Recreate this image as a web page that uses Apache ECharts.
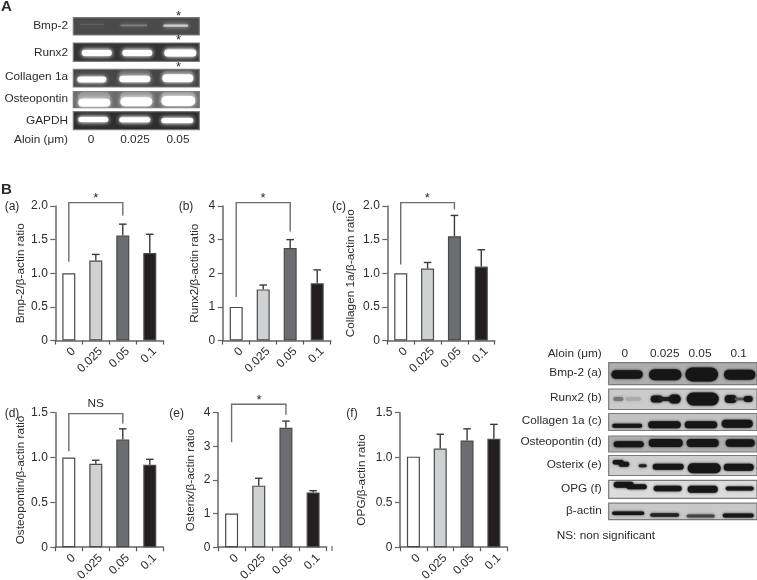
<!DOCTYPE html>
<html><head><meta charset="utf-8">
<style>html,body{margin:0;padding:0;background:#fff}#c{width:757px;height:580px}</style>
<script src="https://cdn.jsdelivr.net/npm/echarts@6/dist/echarts.min.js"></script>
</head><body><div id="c"></div>
<script>
const doses = ['0','0.025','0.05','0.1'];
const barColors = ['#ffffff','#cfd1d3','#6b6d70','#231f20'];

const bmp2 = [1, 1.19, 1.56, 1.30];
const bmp2Top = [null, 1.28, 1.73, 1.58];
const runx2 = [1, 1.52, 2.75, 1.70];
const runx2Top = [null, 1.65, 3.0, 2.1];
const collagen = [1, 1.07, 1.55, 1.10];
const collagenTop = [null, 1.16, 1.86, 1.35];
const osteopontin = [1, 0.93, 1.20, 0.92];
const osteopontinTop = [null, 0.97, 1.32, 0.98];
const osterix = [1, 1.83, 3.55, 1.63];
const osterixTop = [null, 2.05, 3.75, 1.68];
const opg = [1.01, 1.10, 1.19, 1.21];
const opgTop = [null, 1.26, 1.32, 1.37];

// [left foot, top, right foot] of each significance bracket, in axis units
const bracketA = [1.17, 2.05, 1.86];
const bracketB = [1.29, 4.10, 3.24];
const bracketC = [1.13, 2.05, 1.95];
const bracketD = [1.07, 1.49, 1.38];
const bracketE = [3.12, 4.25, 3.94];

const charts = [
  {name:'Bmp-2/β-actin ratio', v:bmp2, t:bmp2Top, max:2, step:.5, b:bracketA, l:55.3, w:108, top:206, gap:27},
  {name:'Runx2/β-actin ratio', v:runx2, t:runx2Top, max:4, step:1, b:bracketB, l:222.7, w:108, top:206, gap:21.5},
  {name:'Collagen 1a/β-actin ratio', v:collagen, t:collagenTop, max:2, step:.5, b:bracketC, l:387.3, w:107.4, top:206, gap:31},
  {name:'Osteopontin/β-actin ratio', v:osteopontin, t:osteopontinTop, max:1.5, step:.5, b:bracketD, l:55.3, w:108, top:412.7, gap:27},
  {name:'Osterix/β-actin ratio', v:osterix, t:osterixTop, max:4, step:1, b:bracketE, l:218, w:108.7, top:412.7, gap:21},
  {name:'OPG/β-actin ratio', v:opg, t:opgTop, max:1.5, step:.5, b:null, l:400, w:107.3, top:412.7, gap:32}
];
const PLOT_H = 134.5;

// gel panels: band = [x from panel left, y from panel top, width, height, colour]
const W = '#ffffff', K = '#161616', H1 = '#6c6c6c', H2 = '#9a9a9a';
const gels = [
 {t:17.7,h:17.3,l:73.3,w:126,bg:'#4a4a4a',glow:1,bands:[[7,6.7,24,1.2,'#606060'],[47,7.7,27,1.6,'#808080'],[90,8,25,2.2,'#d0d0d0']]},
 {t:43,h:18.3,l:73.3,w:126,bg:'#343434',glow:1,bands:[[8.5,9.5,30,8,H1],[49,9.5,30,8,H1],[91,9.5,32,9,H1],[8.5,10,30,6,W],[49,10,30,6,W],[91,10,32,7,W]]},
 {t:69.3,h:17.7,l:73.3,w:126,bg:'#464646',glow:1,bands:[[46,5,31,8,H1],[89,5.5,31,8,H1],[4,10.3,29,6,W],[46,9.7,31,6.5,W],[89,9,31,8,W]]},
 {t:91.7,h:16,l:73.3,w:126,bg:'#6a6a6a',glow:1,bands:[[5,5.5,32,10,H2],[47,5,32,10,H2],[88,5,34,10,H2],[5,11,32,8,W],[47,10,32,9,W],[88,9.3,34,10,W]]},
 {t:111.7,h:18,l:73.3,w:126,bg:'#2e2e2e',glow:1,bands:[[5,7.7,30,7,H1],[46,8,31,7,H1],[88,8.7,32,7,H1],[5,7.7,30,5,W],[46,8,31,5,W],[88,8.7,32,5,W]]},

 {t:362.7,h:22,l:608.7,w:148.3,bg:'#adadad',bands:[[2.7,11.7,31.3,8.5,K],[40.3,12,32.4,11,K],[76.7,11.7,32.6,14,K],[115.3,12,31.4,10,K]]},
 {t:389,h:20.5,l:608.7,w:148.3,bg:'#cbcbcb',bands:[[4.7,10,10,4,'#777777'],[17,10,15,3.5,'#aaaaaa'],[42,10,12,7,K],[50,10,20,4,'#222222'],[60,10,12,9,K],[78,10,32,13,K],[116,10,12,8,K],[126,10,10,2.5,'#555555'],[135,10,9,6,K]]},
 {t:413.5,h:17,l:608.7,w:148.3,bg:'#c2c2c2',bands:[[3.5,12.3,30,4,K],[39.5,11.3,32.5,7,K],[76,11.3,32.5,7,K],[113,10.3,31,8,K]]},
 {t:436,h:16,l:608.7,w:148.3,bg:'#b0b0b0',bands:[[5,8.3,30,6,K],[40,7,34,8,K],[78,7,32,8,K],[117,7,29,7.5,K]]},
 {t:455.5,h:20,l:608.7,w:148.3,bg:'#cfcfcf',bands:[[4,6.8,11,4.5,K],[10,8.8,10.5,5,K],[30,10.3,8,3,'#222222'],[44,11.3,31,6,K],[79,12.7,33,10,K],[115,11.7,30,7,K]]},
 {t:480.3,h:18,l:608.7,w:148.3,bg:'#dcdcdc',bands:[[5,4.5,20,6,K],[18,6.5,20,5,K],[45,8.3,28,5.5,K],[79,9,30,7,K],[117,8.3,28,4,K]]},
 {t:503.2,h:16.5,l:608.7,w:148.3,bg:'#c8c8c8',bands:[[3.5,10,32,3.5,K],[41.5,11.7,29,3.5,'#222222'],[78,12.7,28,3,'#444444'],[114,12.3,31,4,K]]}
];

const font = 'Liberation Sans, Arial, sans-serif';
const txtColor = '#2b2b2b';
const texts = [
 ['A',1,7,'left',15,'bold'],['B',1,190,'left',15,'bold'],
 ['Bmp-2',68,26,'right'],['Runx2',68,53,'right'],['Collagen 1a',68,77,'right'],['Osteopontin',68,99,'right'],['GAPDH',68,121,'right'],
 ['Aloin (μm)',68,140,'right'],['0',91,140],['0.025',135,140],['0.05',178,140],
 ['*',178.5,16,'center',13],['*',178.5,40,'center',13],['*',178.5,67,'center',13],
 ['(a)',12,207,'center',12],['(b)',186,207,'center',12],['(c)',339,207,'center',12],['(d)',12,414,'center',12],['(e)',176.7,414,'center',12],['(f)',352,414,'center',12],
 ['*',95.7,198,'center',13],['*',263,198,'center',13],['*',427.3,198,'center',13],['*',259,400.5,'center',13],['NS',95.7,404],
 ['Aloin (μm)',601.7,354,'right'],['0',624.7,354],['0.025',664.7,354],['0.05',700,354],['0.1',738.7,354],
 ['Bmp-2 (a)',601.7,373,'right'],['Runx2 (b)',601.7,398,'right'],['Collagen 1a (c)',601.7,421,'right'],['Osteopontin (d)',601.7,442,'right'],
 ['Osterix (e)',601.7,465,'right'],['OPG (f)',601.7,489,'right'],['β-actin',601.7,511,'right'],
 ['NS: non significant',556.7,535.7,'left']
];

const grids=[],xAxes=[],yAxes=[],series=[];
charts.forEach((c,i)=>{
  grids.push({left:c.l,top:c.top,width:c.w,height:PLOT_H,outerBoundsMode:'none'});
  const axisLine={lineStyle:{color:'#666',width:1.5}};
  xAxes.push({gridIndex:i,type:'category',data:doses,axisLine,
    axisTick:{show:true,length:4,alignWithLabel:false,lineStyle:{color:'#555',width:1.2}},
    axisLabel:{rotate:45,interval:0,margin:4,fontSize:12,lineHeight:14,verticalAlign:'top',hideOverlap:false,color:txtColor,fontFamily:font},splitLine:{show:false}});
  yAxes.push({gridIndex:i,type:'value',min:0,max:c.max,interval:c.step,name:c.name,nameLocation:'middle',nameGap:c.gap,
    nameTextStyle:{fontSize:11.8,color:txtColor,fontFamily:font},
    axisLine:{show:true,lineStyle:{color:'#666',width:1.5}},
    axisTick:{show:true,length:5,lineStyle:{color:'#666',width:1.2}},
    axisLabel:{margin:7.5,fontSize:12,color:txtColor,fontFamily:font,
      formatter:v=>v===0?'0':(c.step<1?v.toFixed(1):String(v))},splitLine:{show:false}});
  series.push({type:'bar',xAxisIndex:i,yAxisIndex:i,barWidth:13,silent:true,
    data:c.v.map((v,k)=>({value:v,itemStyle:{color:barColors[k],borderColor:'#4a4a4a',borderWidth:1.2}}))});
  series.push({type:'custom',xAxisIndex:i,yAxisIndex:i,silent:true,clip:false,
    data:c.v.map((v,k)=>[k,v,c.t[k]]).filter(d=>d[2]!=null),encode:{x:0,y:[1,2]},
    renderItem:(p,api)=>{
      const a=api.coord([api.value(0),api.value(1)]),b=api.coord([api.value(0),api.value(2)]);
      const st={stroke:'#3a3a3a',lineWidth:1.4,fill:null};
      return {type:'group',children:[
        {type:'line',shape:{x1:a[0],y1:a[1],x2:b[0],y2:b[1]},style:st},
        {type:'line',shape:{x1:b[0]-3.8,y1:b[1],x2:b[0]+3.8,y2:b[1]},style:st}]};
    }});
  if(c.b){
    series.push({type:'custom',xAxisIndex:i,yAxisIndex:i,silent:true,clip:false,
      data:[[0,2,c.b[0],c.b[1],c.b[2]]],encode:{x:[0,1],y:[2,3,4]},
      renderItem:(p,api)=>{
        const pts=[[api.value(0),api.value(2)],[api.value(0),api.value(3)],[api.value(1),api.value(3)],[api.value(1),api.value(4)]].map(q=>api.coord(q));
        return {type:'polyline',shape:{points:pts},style:{stroke:'#6e6e6e',lineWidth:1.4,fill:null}};
      }});
  }
});
gels.forEach((g,n)=>{
  const i=grids.length;
  grids.push({left:g.l,top:g.t,width:g.w,height:g.h,outerBoundsMode:'none',show:true,backgroundColor:g.bg,borderColor:'#7a7a7a',borderWidth:1.2});
  xAxes.push({gridIndex:i,type:'value',min:0,max:g.w,show:false});
  yAxes.push({gridIndex:i,type:'value',min:0,max:g.h,inverse:true,show:false});
  series.push({type:'custom',xAxisIndex:i,yAxisIndex:i,silent:true,clip:true,
    data:g.bands,encode:{x:[0,2],y:[1,3]},
    renderItem:(p,api)=>{
      const x=api.value(0),y=api.value(1),bw=api.value(2),bh=api.value(3);
      const a=api.coord([x,y-bh/2]),b=api.coord([x+bw,y+bh/2]);
      const col=g.bands[p.dataIndex][4];
      return {type:'rect',shape:{x:a[0],y:a[1],width:b[0]-a[0],height:b[1]-a[1],r:(b[1]-a[1])/2},
        style:{fill:col,shadowBlur:g.glow?4:2.5,shadowColor:col}};
    }});
});
const graphic=texts.map(t=>({type:'text',x:t[1],y:t[2],silent:true,z:50,
  style:{text:t[0],align:t[3]||'center',verticalAlign:'middle',fill:txtColor,
    font:(t[5]||'normal')+' '+(t[4]||11.8)+'px '+font}}));
graphic.push({type:'line',silent:true,shape:{x1:332,y1:546,x2:332,y2:551},style:{stroke:'#666',lineWidth:1.2}});
const chart=echarts.init(document.getElementById('c'),null,{renderer:'canvas'});
chart.setOption({animation:false,backgroundColor:'#fff',grid:grids,xAxis:xAxes,yAxis:yAxes,series,graphic});
</script></body></html>
